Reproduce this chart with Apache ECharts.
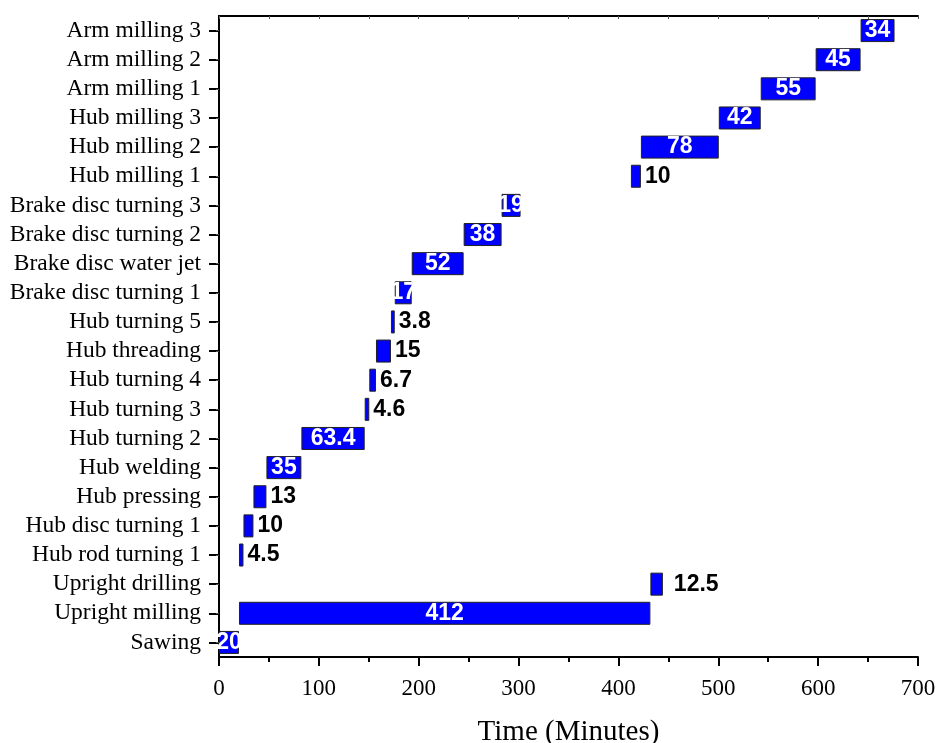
<!DOCTYPE html>
<html>
<head>
<meta charset="utf-8">
<script src="https://cdn.jsdelivr.net/npm/echarts@6/dist/echarts.min.js"></script>
<style>
  html, body { margin: 0; padding: 0; background: #fff; }
  #main { width: 938px; height: 743px; }
</style>
</head>
<body>
<div id="main"></div>
<script>
    // process steps, bottom to top
    var tasks = ['Sawing', 'Upright milling', 'Upright drilling', 'Hub rod turning 1', 'Hub disc turning 1',
        'Hub pressing', 'Hub welding', 'Hub turning 2', 'Hub turning 3', 'Hub turning 4', 'Hub threading',
        'Hub turning 5', 'Brake disc turning 1', 'Brake disc water jet', 'Brake disc turning 2',
        'Brake disc turning 3', 'Hub milling 1', 'Hub milling 2', 'Hub milling 3', 'Arm milling 1',
        'Arm milling 2', 'Arm milling 3'];
    // start time of each step (minutes)
    var starts = [0, 20, 432, 20, 24.5, 34.5, 47.5, 82.5, 145.9, 150.5, 157.2, 172.2, 176, 193, 245,
        283, 412.5, 422.5, 500.5, 542.5, 597.5, 642.5];
    // duration of each step (minutes)
    var durations = [20, 412, 12.5, 4.5, 10, 13, 35, 63.4, 4.6, 6.7, 15, 3.8, 17, 52, 38, 19, 10, 78,
        42, 55, 45, 34];
    var xTicks = [0, 100, 200, 300, 400, 500, 600, 700];

    var myChart = echarts.init(document.getElementById('main'));

    /*小于16的数值标签放在条形右侧*/
    var durData = durations.map(function (d, i) {
        var outside = d < 16;
        return {
            value: d,
            label: {
                position: outside ? 'right' : 'inside',
                color: outside ? '#000' : '#fff',
                distance: tasks[i] == 'Upright drilling' ? 11 : 4
            }
        };
    });

    var option = {
        animation: false,
        grid: {left: 219, right: 20, top: 16, bottom: 86, outerBoundsMode: 'none'},
        xAxis: [{
            type: 'value',
            min: 0, max: 700, interval: 100,
            name: 'Time (Minutes)',
            nameLocation: 'middle',
            nameGap: 61,
            nameTextStyle: {fontFamily: 'Liberation Serif', fontSize: 29, color: '#000'},
            axisLine: {show: true, lineStyle: {color: '#000', width: 2}},
            axisTick: {show: true, length: 9, lineStyle: {color: '#000', width: 2}},
            minorTick: {show: true, splitNumber: 2, length: 5, lineStyle: {color: '#000', width: 2}},
            axisLabel: {fontFamily: 'Liberation Serif', fontSize: 23, color: '#000', margin: 20,
                formatter: function (v) { return xTicks.indexOf(v) >= 0 ? v : ''; }},
            splitLine: {show: false}
        }, {
            type: 'value',
            position: 'top',
            min: 0, max: 700, interval: 50,
            axisLine: {show: true, lineStyle: {color: '#000', width: 2}},
            axisTick: {show: true, inside: true, length: 3, lineStyle: {color: '#555', width: 1}},
            axisLabel: {show: false},
            splitLine: {show: false}
        }],
        yAxis: [{
            type: 'category',
            data: tasks,
            axisLine: {show: true, lineStyle: {color: '#000', width: 2}},
            axisTick: {show: true, alignWithLabel: true, interval: 0, length: 10, lineStyle: {color: '#000', width: 2}},
            axisLabel: {interval: 0, fontFamily: 'Liberation Serif', fontSize: 23.5, color: '#000', margin: 18},
            splitLine: {show: false}
        }, {
            type: 'category',
            data: tasks,
            position: 'right',
            axisLine: {show: true, lineStyle: {color: '#000', width: 2}},
            axisTick: {show: true, inside: true, alignWithLabel: true, interval: 0, length: 3, lineStyle: {color: '#555', width: 1}},
            axisLabel: {show: false},
            splitLine: {show: false}
        }],
        series: [{
            type: 'bar',
            stack: 'gantt',
            data: starts,
            itemStyle: {color: 'transparent'},
            barWidth: '79%',
            silent: true
        }, {
            type: 'bar',
            stack: 'gantt',
            data: durData,
            barWidth: '79%',
            itemStyle: {color: '#0000ff', borderColor: '#222', borderWidth: 1},
            label: {
                show: true,
                fontFamily: 'Liberation Sans',
                fontWeight: 'bold',
                fontSize: 23
            }
        }]
    };
    myChart.setOption(option);
</script>
</body>
</html>
